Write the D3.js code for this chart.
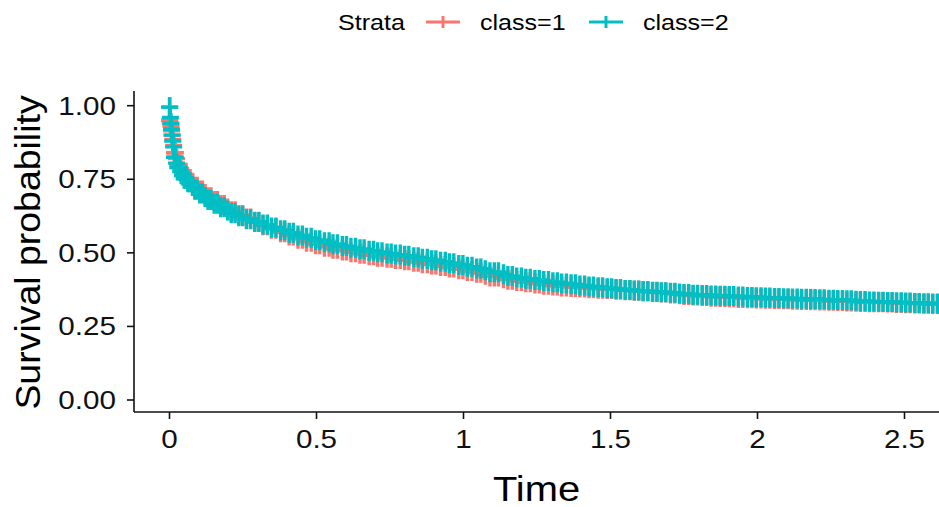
<!DOCTYPE html>
<html>
<head>
<meta charset="utf-8">
<script src="https://cdn.jsdelivr.net/npm/d3@7"></script>
<style>
  body { margin: 0; background: #fff; }
  svg { display: block; font-family: "Liberation Sans", Arial, sans-serif; }
</style>
</head>
<body>
<div id="chart"></div>
<script>
// Kaplan-Meier curves (time in years, survival probability)
const times = [0, 0.002, 0.004, 0.006, 0.008, 0.010, 0.013, 0.017, 0.022, 0.028, 0.035, 0.043, 0.050,
  0.060, 0.072, 0.085, 0.100, 0.115, 0.130, 0.150, 0.170, 0.190, 0.210, 0.235, 0.260, 0.285,
  0.31, 0.34, 0.37, 0.40, 0.43, 0.46, 0.49, 0.52, 0.55, 0.58, 0.61, 0.64, 0.67, 0.70, 0.73, 0.76,
  0.79, 0.82, 0.85, 0.88, 0.91, 0.94, 0.97, 1.00, 1.03, 1.06, 1.09, 1.12, 1.15, 1.18, 1.21, 1.24,
  1.27, 1.30, 1.33, 1.36, 1.39, 1.42, 1.45, 1.48, 1.51, 1.54, 1.57, 1.60, 1.63, 1.66, 1.69, 1.72,
  1.75, 1.78, 1.81, 1.84, 1.87, 1.90, 1.93, 1.96, 1.99, 2.02, 2.05, 2.08, 2.11, 2.14, 2.17, 2.20,
  2.23, 2.26, 2.29, 2.32, 2.35, 2.38, 2.41, 2.44, 2.47, 2.50, 2.53, 2.56, 2.59, 2.62, 2.65];

const survClass1 = [0.95, 0.94, 0.93, 0.915, 0.90, 0.885, 0.865, 0.84, 0.82, 0.80, 0.787, 0.774, 0.763,
  0.751, 0.738, 0.725, 0.712, 0.70, 0.689, 0.676, 0.663, 0.651, 0.641, 0.629, 0.617, 0.606,
  0.594, 0.582, 0.570, 0.559, 0.548, 0.538, 0.529, 0.521, 0.514, 0.508, 0.502, 0.497, 0.492, 0.487, 0.483, 0.479,
  0.475, 0.470, 0.465, 0.460, 0.455, 0.450, 0.444, 0.438, 0.432, 0.426, 0.420, 0.414, 0.409, 0.404, 0.400, 0.396,
  0.392, 0.389, 0.386, 0.384, 0.382, 0.380, 0.378, 0.377, 0.375, 0.373, 0.371, 0.369, 0.367, 0.365, 0.362, 0.359,
  0.357, 0.355, 0.353, 0.351, 0.350, 0.349, 0.347, 0.346, 0.345, 0.344, 0.343, 0.342, 0.341, 0.340, 0.339, 0.338,
  0.337, 0.336, 0.335, 0.334, 0.333, 0.332, 0.332, 0.331, 0.330, 0.329, 0.328, 0.327, 0.326, 0.325, 0.324];

const survClass2 = [0.995, 0.96, 0.94, 0.92, 0.90, 0.88, 0.86, 0.825, 0.805, 0.79, 0.776, 0.763, 0.752,
  0.74, 0.727, 0.714, 0.702, 0.69, 0.68, 0.667, 0.655, 0.644, 0.635, 0.624, 0.614, 0.605,
  0.596, 0.586, 0.577, 0.568, 0.559, 0.551, 0.543, 0.536, 0.529, 0.523, 0.517, 0.512, 0.507, 0.502, 0.498, 0.494,
  0.490, 0.485, 0.480, 0.475, 0.470, 0.465, 0.459, 0.453, 0.447, 0.441, 0.434, 0.427, 0.421, 0.416, 0.412, 0.408,
  0.404, 0.400, 0.396, 0.393, 0.389, 0.386, 0.383, 0.380, 0.377, 0.374, 0.372, 0.370, 0.368, 0.366, 0.364, 0.362,
  0.360, 0.358, 0.357, 0.355, 0.354, 0.353, 0.352, 0.350, 0.349, 0.348, 0.347, 0.346, 0.345, 0.344, 0.343, 0.342,
  0.341, 0.340, 0.339, 0.337, 0.336, 0.335, 0.334, 0.333, 0.332, 0.331, 0.330, 0.329, 0.328, 0.327, 0.326];

// times of censored observations ("+" marks), sitting on the step curves
const censorTimes = [0, 0.001, 0.003, 0.005, 0.007, 0.009, 0.011, 0.014, 0.017, 0.020, 0.024, 0.028, 0.033,
  0.038, 0.044, 0.050, 0.056, 0.063, 0.070, 0.078, 0.086, 0.094, 0.103, 0.112, 0.121, 0.131, 0.141, 0.152,
  0.163, 0.174, 0.186, 0.198, 0.210, 0.223, 0.236, 0.249, 0.262, 0.276, 0.290, 0.304, 0.318, 0.333, 0.347,
  0.362, 0.378, 0.392, 0.407, 0.421, 0.437, 0.452, 0.466, 0.482, 0.497, 0.511, 0.527, 0.543, 0.556, 0.571,
  0.588, 0.602, 0.617, 0.633, 0.648, 0.662, 0.679, 0.694, 0.708, 0.723, 0.740, 0.754, 0.769, 0.785, 0.800,
  0.814, 0.831, 0.846, 0.860, 0.877, 0.892, 0.906, 0.922, 0.938, 0.952, 0.967, 0.984, 0.998, 1.013, 1.029,
  1.045, 1.059, 1.074, 1.090, 1.105, 1.119, 1.136, 1.151, 1.166, 1.181, 1.197, 1.212, 1.227, 1.243, 1.258,
  1.273, 1.289, 1.304, 1.319, 1.334, 1.350, 1.366, 1.381, 1.396, 1.412, 1.427, 1.442, 1.458, 1.473, 1.489,
  1.504, 1.519, 1.534, 1.550, 1.566, 1.581, 1.596, 1.611, 1.627, 1.643, 1.658, 1.673, 1.688, 1.704, 1.719,
  1.735, 1.750, 1.766, 1.781, 1.796, 1.812, 1.827, 1.842, 1.858, 1.873, 1.889, 1.904, 1.919, 1.935, 1.950,
  1.966, 1.981, 1.996, 2.012, 2.027, 2.042, 2.058, 2.073, 2.089, 2.104, 2.119, 2.135, 2.150, 2.166, 2.181,
  2.196, 2.212, 2.227, 2.243, 2.258, 2.273, 2.289, 2.304, 2.319, 2.335, 2.350, 2.366, 2.381, 2.396, 2.412,
  2.427, 2.443, 2.458, 2.473, 2.489, 2.504, 2.519, 2.535, 2.550, 2.566, 2.581, 2.596, 2.612, 2.627, 2.643];

const strata = ["class=1", "class=2"];
const strataColors = ["#F8766D", "#00BFC4"];
const xTicks = [0, 0.5, 1, 1.5, 2, 2.5];
const yTicks = [0, 0.25, 0.5, 0.75, 1];

const width = 939, height = 507;
const panel = { left: 134, right: 939, top: 91, bottom: 412 };
const stretch = 1.14; // the source text renders a bit wider than Liberation Sans

const svg = d3.select("#chart").append("svg")
  .attr("width", width)
  .attr("height", height);

const x = d3.scaleLinear().domain([0, 2.5]).range([169.5, 904.5]);
const y = d3.scaleLinear().domain([0, 1]).range([400, 105.7]);

svg.append("clipPath").attr("id", "panel-clip")
  .append("rect")
  .attr("x", panel.left).attr("y", panel.top - 20)
  .attr("width", panel.right - panel.left).attr("height", panel.bottom - panel.top + 20);

const series = [survClass1, survClass2].map((s, i) => ({
  name: strata[i],
  color: strataColors[i],
  points: times.map((t, j) => ({ t: t, s: s[j] }))
}));

const bisectT = d3.bisector(d => d.t).right;
// value of the step curve at time t
function survAt(points, t) {
  const i = Math.max(0, bisectT(points, t) - 1);
  return points[i].s;
}

const line = d3.line()
  .x(d => x(d.t))
  .y(d => y(d.s))
  .curve(d3.curveStepAfter);

const cross = "M-8.5,0H8.5M0,-10V10";

const plot = svg.append("g").attr("clip-path", "url(#panel-clip)");

series.forEach(sr => {
  const g = plot.append("g");
  g.append("path")
    .attr("d", line(sr.points))
    .attr("fill", "none")
    .attr("stroke", sr.color)
    .attr("stroke-width", 2.5);
  g.selectAll(".cens")
    .data(censorTimes)
    .enter().append("path")
    .attr("class", "cens")
    .attr("d", cross)
    .attr("transform", t => `translate(${x(t)},${y(survAt(sr.points, t))})`)
    .attr("fill", "none")
    .attr("stroke", sr.color)
    .attr("stroke-width", 3.4);
});

// axes
const axisColor = "#111";

svg.append("line")
  .attr("x1", panel.left).attr("x2", panel.left)
  .attr("y1", panel.top).attr("y2", panel.bottom)
  .attr("stroke", axisColor).attr("stroke-width", 1.6);

svg.append("line")
  .attr("x1", panel.left).attr("x2", panel.right)
  .attr("y1", panel.bottom).attr("y2", panel.bottom)
  .attr("stroke", axisColor).attr("stroke-width", 1.6);

svg.selectAll(".ytick")
  .data(yTicks)
  .enter().append("line")
  .attr("x1", panel.left - 7).attr("x2", panel.left)
  .attr("y1", d => y(d)).attr("y2", d => y(d))
  .attr("stroke", axisColor).attr("stroke-width", 1.6);

svg.selectAll(".ylab")
  .data(yTicks)
  .enter().append("text")
  .attr("transform", d => `translate(116,${y(d) + 9}) scale(${stretch},1)`)
  .attr("text-anchor", "end")
  .attr("font-size", 26)
  .attr("fill", axisColor)
  .text(d => d3.format(".2f")(d));

svg.selectAll(".xtick")
  .data(xTicks)
  .enter().append("line")
  .attr("x1", d => x(d)).attr("x2", d => x(d))
  .attr("y1", panel.bottom).attr("y2", panel.bottom + 7)
  .attr("stroke", axisColor).attr("stroke-width", 1.6);

svg.selectAll(".xlab")
  .data(xTicks)
  .enter().append("text")
  .attr("transform", d => `translate(${x(d)},448) scale(${stretch},1)`)
  .attr("text-anchor", "middle")
  .attr("font-size", 26)
  .attr("fill", axisColor)
  .text(d => String(d));

svg.append("text")
  .attr("transform", `translate(${(panel.left + panel.right) / 2},501) scale(${stretch},1)`)
  .attr("text-anchor", "middle")
  .attr("font-size", 35)
  .attr("fill", "#000")
  .text("Time");

svg.append("text")
  .attr("transform", `translate(40,${(panel.top + panel.bottom) / 2 + 1}) rotate(-90) scale(1.07,1)`)
  .attr("text-anchor", "middle")
  .attr("font-size", 35)
  .attr("fill", "#000")
  .text("Survival probability");

// legend on top
const legend = svg.append("g");
legend.append("text")
  .attr("transform", `translate(338,30) scale(${stretch},1)`)
  .attr("font-size", 22)
  .attr("fill", "#000")
  .text("Strata");

const keyX = [426, 589];
const labelX = [480, 643];
strata.forEach((name, i) => {
  legend.append("line")
    .attr("x1", keyX[i]).attr("x2", keyX[i] + 34)
    .attr("y1", 22).attr("y2", 22)
    .attr("stroke", strataColors[i]).attr("stroke-width", 3);
  legend.append("line")
    .attr("x1", keyX[i] + 17).attr("x2", keyX[i] + 17)
    .attr("y1", 16).attr("y2", 28)
    .attr("stroke", strataColors[i]).attr("stroke-width", 3);
  legend.append("text")
    .attr("transform", `translate(${labelX[i]},30) scale(${stretch},1)`)
    .attr("font-size", 22)
    .attr("fill", "#000")
    .text(name);
});
</script>
</body>
</html>
